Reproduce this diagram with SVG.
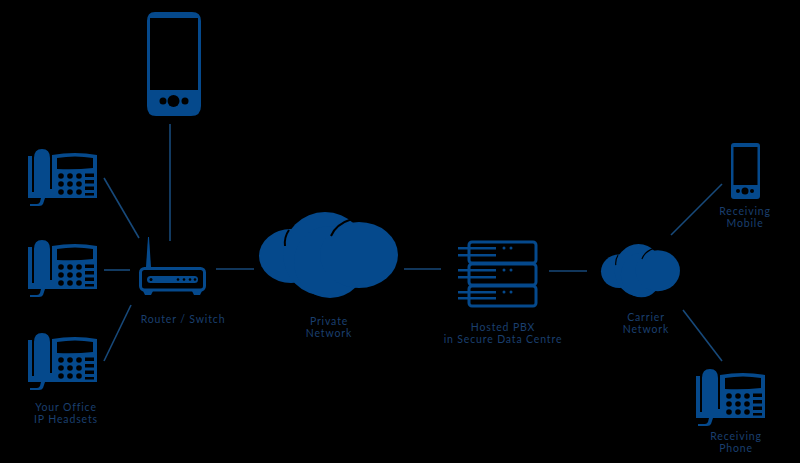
<svg xmlns="http://www.w3.org/2000/svg" xmlns:xlink="http://www.w3.org/1999/xlink" width="800" height="463" viewBox="0 0 800 463">
<style>
.f{fill:#05498c}
.o{fill:none;stroke:#05498c}
.k{fill:#000}
.c{stroke:#17497a;stroke-width:1.6;fill:none}
text{font-family:"Lato","Liberation Sans",sans-serif;font-size:10.5px;letter-spacing:.85px;fill:#1a3f6e;text-anchor:middle}
</style>
<defs>
<g id="desk">
<path class="f" d="M0 7h4V44H0z"/>
<path class="f" d="M6 9Q6 0 14 0Q22 0 22 9V40H24V6Q47 2 69 6V49H0V43H6z"/>
<path class="k" d="M29 9Q47 6 65 9V19Q47 21 29 20z"/>
<path class="f" d="M3 49h14l-2 6q-1 2-4 2H2v-2h7q2 0 3-2l1-4z"/>
<g class="k"><circle cx="33" cy="27" r="2.800"/><circle cx="42" cy="27" r="2.800"/><circle cx="51" cy="27" r="2.800"/><circle cx="33" cy="35" r="2.800"/><circle cx="42" cy="35" r="2.800"/><circle cx="51" cy="35" r="2.800"/><circle cx="33" cy="43" r="2.800"/><circle cx="42" cy="43" r="2.800"/><circle cx="51" cy="43" r="2.800"/>
<rect x="57" y="24.500" width="9" height="3.500"/><rect x="57" y="31" width="9" height="3.500"/><rect x="57" y="37.500" width="9" height="3.500"/><rect x="57" y="44" width="9" height="2.500"/></g>
</g>
<g id="cloud">
<ellipse cx="291" cy="256" rx="32" ry="27"/><circle cx="325" cy="254" r="42"/><circle cx="330" cy="262" r="36"/><ellipse cx="359" cy="255" rx="39" ry="33"/>
<path d="M289 230Q284 237 285 246M352 219Q336 224 331 236" fill="none" stroke="#000" stroke-width="2"/>
</g>
</defs>
<rect width="800" height="463" fill="#000"/>
<g id="connectors" class="c">
<path d="M104 178 139 238"/><path d="M104 270H130"/><path d="M131 305 104 361"/>
<path d="M170 124V241"/><path d="M216 269H254"/><path d="M404 269H441"/><path d="M549 271H587"/>
<path d="M671 235 722 184"/><path d="M683 310 722 361"/>
</g>
<g id="phone-top"><path class="f" fill-rule="evenodd" d="M155 12H192Q201 12 201 21V106Q201 116 191 116H156Q147 116 147 106V21Q147 12 155 12ZM150 18V90H198V18Z"/><circle class="k" cx="173.500" cy="101" r="6"/><circle class="k" cx="163" cy="101" r="3.500"/><circle class="k" cx="185" cy="101" r="3.500"/></g>
<g id="phone-1"><use xlink:href="#desk" transform="translate(28 149)"/></g>
<g id="phone-2"><use xlink:href="#desk" transform="translate(28 240)"/></g>
<g id="phone-3"><use xlink:href="#desk" transform="translate(28 333)"/></g>
<g id="router"><path class="f" d="M148 237l1 0 2 30h-5z"/><rect class="o" stroke-width="3" x="140.500" y="268.500" width="64" height="21.500" rx="4"/><path class="f" d="M143 291h10l-2 4h-6zM192 291h10l-2 4h-6z"/><rect class="f" x="147" y="276" width="51" height="7" rx="3.500"/><g class="k"><circle cx="151" cy="279.500" r="1.500"/><circle cx="178" cy="279.500" r="1.300"/><circle cx="184" cy="279.500" r="1.300"/><circle cx="190" cy="279.500" r="1.300"/><circle cx="195" cy="279.500" r="1.300"/></g><text x="183" y="323">Router / Switch</text></g>
<g id="private-network"><use xlink:href="#cloud" class="f"/><text x="329" y="325">Private</text><text x="329" y="337">Network</text></g>
<g id="pbx"><g class="o" stroke-width="3"><rect x="469" y="242" width="67" height="21" rx="3"/><rect x="469" y="264" width="67" height="21" rx="3"/><rect x="469" y="286" width="67" height="20" rx="3"/></g><g class="f"><path d="M458 247h38v2.500h-38zM458 254h38v2.500h-38zM458 269h38v2.500h-38zM458 276h38v2.500h-38zM458 291h38v2.500h-38zM458 297h38v2.500h-38z"/><circle cx="504" cy="248" r="1.500"/><circle cx="511" cy="248" r="1.500"/><circle cx="504" cy="270" r="1.500"/><circle cx="511" cy="270" r="1.500"/><circle cx="504" cy="292" r="1.500"/><circle cx="511" cy="292" r="1.500"/></g><text x="503" y="331">Hosted PBX</text><text x="503" y="343">in Secure Data Centre</text></g>
<g id="carrier-network"><use xlink:href="#cloud" class="f" transform="translate(453.900 112.600) scale(.568 .62)"/><text x="646" y="321">Carrier</text><text x="646" y="333">Network</text></g>
<g id="receiving-mobile"><path class="f" fill-rule="evenodd" d="M734 143H757Q760 143 760 146V196Q760 199 757 199H734Q731 199 731 196V146Q731 143 734 143ZM733.500 147V185H757.500V147Z"/><circle class="k" cx="745" cy="191" r="3.500"/><circle class="k" cx="738" cy="191" r="2"/><circle class="k" cx="752" cy="191" r="2"/><text x="745" y="215">Receiving</text><text x="745" y="227">Mobile</text></g>
<g id="receiving-phone"><use xlink:href="#desk" transform="translate(696 369)"/><text x="736" y="440">Receiving</text><text x="736" y="452">Phone</text></g>
<g id="your-office"><text x="66" y="411">Your Office</text><text x="66" y="423">IP Headsets</text></g>
</svg>
